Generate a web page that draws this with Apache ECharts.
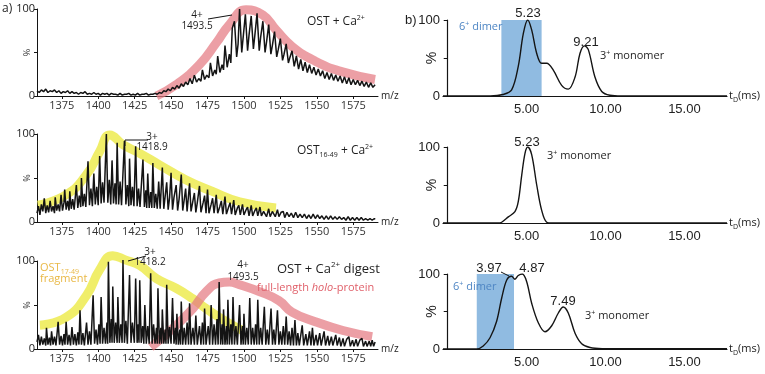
<!DOCTYPE html>
<html>
<head>
<meta charset="utf-8">
<script src="https://cdn.jsdelivr.net/npm/echarts@6/dist/echarts.min.js"></script>
<style>
  html, body { margin: 0; background: #fff; }
  #chart { width: 765px; height: 374px; }
</style>
</head>
<body>
<div id="chart"></div>
<script>
// tick labels
const mzTicks = [1375, 1400, 1425, 1450, 1475, 1500, 1525, 1550, 1575];
const tdTicks = [5, 10, 15];

// a) mass spectra, [m/z, %]
const specOstCa = [
  [1358,6],[1359.5,4],[1361,7],[1362.5,5],[1364,8],[1365.5,4],[1367,6],[1368.5,5],[1370,7],[1371.5,4],
  [1373,6],[1374.5,3],[1376,5],[1377.5,4],[1379,6],[1380.5,3],[1382,5],[1383.5,3],[1385,4],[1386.5,2],
  [1388,4],[1389.5,3],[1391,5],[1392.5,2],[1394,3],[1395.5,2],[1397,4],[1398.5,2],[1400,3],[1401.5,1],
  [1403,3],[1404.5,2],[1406,3],[1407.5,1],[1409,3],[1410.5,2],[1412,2],[1413.5,1],[1415,3],[1416.5,1],
  [1418,2],[1419.5,2],[1421,3],[1422.5,1],[1424,2],[1425.5,1],[1427,3],[1428.5,1],[1430,2],[1431.5,2],
  [1433,3],[1434.5,1],[1436,2],[1437.5,2],[1439,3],[1440.5,2],[1442,4],[1443.5,3],[1445,6],[1446.5,5],
  [1448,8],[1449.5,6],[1451,10],[1452.5,8],[1454,12],[1455.5,9],[1457,14],[1458.5,11],[1460,16],[1461.5,13],
  [1463,20],[1464.5,14],[1466,24],[1467.5,16],[1469,20],[1470.5,17],[1471.5,30],[1473,19],[1474.5,24],[1476,21],
  [1477,38],[1478.5,23],[1480,30],[1481,25],[1482,46],[1483.5,27],[1485,36],[1486,30],[1487,58],[1488.5,33],
  [1490,48],[1491,38],[1492,78],[1493.5,86],[1495,45],[1496,60],[1497,100],[1498.5,50],[1499.5,68],[1501,94],
  [1502.5,52],[1503.5,70],[1505,92],[1506.5,54],[1507.5,70],[1509,95],[1510.5,52],[1511.5,68],[1513,86],[1514.5,50],
  [1515.5,62],[1517,82],[1518.5,48],[1519.5,58],[1521,74],[1522.5,45],[1523.5,53],[1525,66],[1526.5,41],[1527.5,48],
  [1529,60],[1530.5,38],[1531.5,44],[1533,52],[1534.5,34],[1536,46],[1537.5,31],[1539,42],[1540.5,29],[1542,39],
  [1543.5,27],[1545,36],[1546.5,26],[1548,33],[1549.5,24],[1551,31],[1552.5,23],[1554,29],[1555.5,20],[1557,27],
  [1558.5,19],[1560,26],[1561.5,18],[1563,24],[1564.5,17],[1566,23],[1567.5,15],[1569,22],[1570.5,14],[1572,21],
  [1573.5,13],[1575,19],[1576.5,13],[1578,18],[1579.5,12],[1581,17],[1582.5,11],[1584,16],[1585.5,10],[1587,15],
  [1588.5,10],[1590,13]
];
const envOstCa = [
  [1440,0],[1453.5,13],[1469.5,36],[1481,61],[1490,82],[1501.5,99],[1513,93],[1522,76],
  [1533,57],[1549,40],[1567,28],[1590,19]
];

const specOst1649 = [
  [1358,10],[1359,18],[1360,8],[1361,20],[1362,12],[1363,27],[1364,10],[1365,19],[1366,11],[1367,24],
  [1368,12],[1369,18],[1370,10],[1370.5,28],[1371.5,13],[1372.5,20],[1373.5,12],[1374.5,31],[1375.5,13],[1376.5,22],
  [1377,37],[1378,14],[1379,24],[1380,13],[1380.5,35],[1381.5,15],[1382.5,26],[1383.5,14],[1385,42],[1386,16],
  [1387,30],[1388,17],[1388.5,50],[1389.5,18],[1390.5,32],[1391.5,17],[1393,69],[1394,19],[1395,38],[1396,18],
  [1397,55],[1398,20],[1399,40],[1400,19],[1401,75],[1402,21],[1403,45],[1404,22],[1405.6,100],[1406.6,22],
  [1407.6,48],[1408.6,20],[1409.5,70],[1410.5,21],[1411.5,44],[1412.3,20],[1413,90],[1414,20],[1415,46],[1416,19],
  [1418,92],[1419,20],[1420,42],[1421,18],[1421.5,72],[1422.5,19],[1423.5,40],[1424.5,18],[1425.7,86],[1426.7,18],
  [1427.7,38],[1428.7,17],[1430.7,71],[1431.7,17],[1432.7,36],[1433.3,16],[1434,55],[1435,16],[1436,34],[1436.8,16],
  [1437.5,67],[1438.5,16],[1439.5,32],[1440.5,15],[1441.5,46],[1442.5,15],[1444,62],[1445,15],[1446,30],[1447,45],
  [1448,14],[1449,28],[1450,56],[1451,14],[1452,28],[1453.5,42],[1454.5,13],[1455.5,26],[1457,54],[1458,13],
  [1459,25],[1460,38],[1461,12],[1462.7,44],[1463.7,12],[1465,24],[1466,33],[1467,11],[1468,22],[1469.5,41],
  [1470.5,11],[1472,22],[1473,30],[1474,10],[1475,37],[1476,10],[1477.5,20],[1478.5,27],[1479.5,10],[1481,31],
  [1482,10],[1483.5,18],[1484.5,24],[1485.5,9],[1487,29],[1488,9],[1489.5,17],[1490.5,22],[1491.5,9],[1493,25],
  [1494,8],[1495.5,16],[1496.5,19],[1497.5,8],[1499,20],[1500,8],[1501.5,14],[1502.5,17],[1503.5,7],[1505,19],
  [1506,7],[1507.5,13],[1508.5,16],[1509.5,7],[1511,17],[1512,7],[1513.5,12],[1514.5,14],[1515.5,6],[1517,15],
  [1518,6],[1519.5,12],[1520.5,13],[1521.5,6],[1523,14],[1524,6],[1525.5,11],[1527,12],[1528,5],[1529.5,11],
  [1531,6],[1532.5,10],[1534,5],[1535.5,11],[1537,5],[1538.5,9],[1540,5],[1541.5,9],[1543,4],[1544.5,8],
  [1546,4],[1547.5,9],[1549,4],[1550.5,8],[1552,4],[1553.5,7],[1555,3],[1556.5,7],[1558,3],[1559.5,7],
  [1561,3],[1562.5,6],[1564,3],[1565.5,6],[1567,3],[1568.5,5],[1570,2],[1571.5,6],[1573,2],[1574.5,5],
  [1576,2],[1577.5,5],[1579,2],[1580.5,5],[1582,2],[1583.5,4],[1585,2],[1586.5,4],[1588,2],[1589.5,4],[1590,3]
];
const envOst1649 = [
  [1358.6,19],[1378,31],[1392,54],[1401,80],[1408,99],[1417,88],[1428.5,78],[1442,65],
  [1460,48],[1478,35],[1497,23],[1522,16]
];

const specDigest = [
  [1358,8],[1359,16],[1360,4],[1361,14],[1362,5],[1363,12],[1364,4],[1364.5,24],[1365.5,5],[1366.5,13],
  [1367.3,4],[1368,20],[1369,5],[1370,14],[1371,4],[1372.5,31],[1373.5,5],[1374.5,15],[1375.5,4],[1376.5,17],
  [1377.2,5],[1378,31],[1379,5],[1380,16],[1381,4],[1382,25],[1383,5],[1384,17],[1385,4],[1386,19],
  [1386.8,5],[1387.5,44],[1388.5,5],[1389.5,18],[1390.5,4],[1392,30],[1393,5],[1394,20],[1395,5],[1396.5,61],
  [1397.5,6],[1398.5,22],[1399.5,5],[1400.5,28],[1401.3,6],[1402,59],[1403,6],[1404,24],[1405,6],[1406,30],
  [1406.5,6],[1407,99],[1408,7],[1409,34],[1409.5,7],[1410,71],[1411,7],[1412,30],[1413,7],[1413.5,59],
  [1414.5,7],[1415.5,28],[1416.4,7],[1417,101],[1418,7],[1419,32],[1420,6],[1421.5,84],[1422.5,7],[1423.5,30],
  [1424.8,7],[1425.7,80],[1426.7,7],[1427.5,28],[1428,7],[1428.5,78],[1429.5,7],[1430.5,26],[1431.3,6],[1432,50],
  [1433,6],[1434,26],[1435,6],[1436,86],[1437,6],[1438,28],[1439,6],[1440,24],[1440.5,6],[1441,69],
  [1442,6],[1443,24],[1443.5,6],[1444,45],[1445,6],[1446,22],[1446.5,6],[1447,73],[1448,6],[1449,25],
  [1450,6],[1451,58],[1452,6],[1453,24],[1453.5,5],[1454,40],[1455,5],[1456,22],[1456.5,5],[1457,54],
  [1458,5],[1459,24],[1460,5],[1461,30],[1462,5],[1462.7,52],[1463.7,5],[1465,24],[1466,5],[1467,38],
  [1468,5],[1469.5,26],[1470.5,5],[1471.5,30],[1472.3,5],[1473,46],[1474,5],[1475.5,26],[1476.5,5],[1477.5,50],
  [1478.5,5],[1479.5,28],[1480.5,5],[1481.5,34],[1482.3,5],[1483,76],[1484,5],[1485,28],[1485.5,5],[1486,45],
  [1487,5],[1488,26],[1488.5,5],[1489,56],[1490,5],[1491,28],[1491.8,5],[1492.5,59],[1493.5,5],[1494.5,26],
  [1495.5,5],[1497,50],[1498,5],[1499,26],[1499.5,5],[1500,40],[1501,5],[1502,24],[1503,5],[1504,58],
  [1505,5],[1506,24],[1507,5],[1508,28],[1508.8,5],[1509.5,56],[1510.5,5],[1511.5,24],[1512.5,5],[1514,48],
  [1515,5],[1516,22],[1517,5],[1518.6,46],[1519.6,5],[1520.5,22],[1521.5,5],[1523,44],[1524,5],[1525,20],
  [1526,5],[1527,26],[1528,5],[1529,37],[1530,5],[1531,20],[1532,4],[1533,24],[1534,4],[1535,33],
  [1536,4],[1537,18],[1538,4],[1540,27],[1541,4],[1542.5,17],[1543.5,4],[1545,20],[1546,4],[1547,24],
  [1548,4],[1549.5,16],[1550.5,4],[1552,18],[1553,4],[1555,20],[1556,4],[1557.5,15],[1558.5,4],[1560,14],
  [1561,4],[1563,16],[1564,4],[1565.5,13],[1566.5,3],[1568,12],[1569,3],[1570.5,11],[1572,14],[1573,3],
  [1574.5,10],[1575.5,3],[1577,11],[1578,3],[1579.5,10],[1581,12],[1582,3],[1583.5,9],[1584.5,3],[1586,9],
  [1587,3],[1588,10],[1589,3],[1590,8]
];
const envDigestFragment = [
  [1360,27],[1378,36],[1392,61],[1401,90],[1410,106],[1419,101],[1428.5,95],[1440,80],
  [1453.5,69],[1465,57],[1474,46],[1483,36],[1492,27],[1499,21]
];
const envDigestHolo = [
  [1436,2],[1451,23],[1465,46],[1474,65],[1483,75],[1490,76],[1497,73],[1511,65],
  [1524,55],[1533,42],[1549,31],[1568,21],[1588,14]
];

// b) arrival time distributions, [t_D ms, %]
const atdOstCa = [
  [-0.3,0],[2.7,0],[3.5,2],[4.05,8],[4.47,39],[4.79,82],[5.07,100],[5.32,87],[5.64,56],[5.95,43],
  [6.27,43],[6.69,34],[7.22,14],[7.64,9],[8.07,25],[8.38,56],[8.66,66],[8.91,61],[9.33,25],[9.76,6],
  [10.28,1],[11,0],[17.7,0]
];
const atdOst1649 = [
  [-0.3,0],[3.2,0],[3.42,1],[3.84,8],[4.26,15],[4.47,28],[4.69,63],[4.9,92],[5.07,100],[5.32,90],
  [5.64,50],[5.95,17],[6.27,1],[6.6,0],[17.7,0]
];
const atdDigest = [
  [-0.3,0],[1.84,0],[2.25,4],[2.68,15],[3.1,37],[3.42,68],[3.74,92],[4.05,97],[4.26,93],[4.47,98],
  [4.73,100],[5.0,90],[5.32,61],[5.74,35],[6.16,23],[6.59,31],[7.01,48],[7.32,56],[7.64,48],[8.07,21],
  [8.49,7],[9.02,2],[9.86,0.5],[11,0.3],[17.7,0.3]
];
const dimerBandOstCa = [3.4, 5.95];
const dimerBandDigest = [1.84, 4.2];

const BLACK = '#141414';
const RED = 'rgba(228,122,130,0.72)';
const YELLOW = 'rgba(238,236,90,0.9)';
const BLUE = 'rgba(132,180,222,0.9)';
const SANS = '"Open Sans", "Liberation Sans", sans-serif';
const ARIAL = '"Liberation Sans", Arial, sans-serif';

const leftGrids = [
  { left: 37, top: 9, width: 341, height: 87 },
  { left: 37, top: 134, width: 341, height: 88 },
  { left: 37, top: 261, width: 341, height: 88 },
];
const rightGrids = [
  { left: 443, top: 20, width: 284, height: 76 },
  { left: 443, top: 147, width: 284, height: 76 },
  { left: 443, top: 274, width: 284, height: 75 },
];

const grid = [...leftGrids, ...rightGrids];
const xAxis = [];
const yAxis = [];

leftGrids.forEach((g, i) => {
  xAxis.push({
    type: 'value', gridIndex: i, min: 1358, max: 1592,
    name: 'm/z', nameLocation: 'end', nameGap: 3, nameMoveOverlap: false,
    nameTextStyle: { fontFamily: SANS, fontSize: 10, color: '#222', verticalAlign: 'middle' },
    axisLine: { lineStyle: { color: BLACK, width: 1 } },
    axisTick: { show: true, length: 3, customValues: mzTicks, lineStyle: { color: BLACK } },
    axisLabel: { customValues: mzTicks, margin: 4, fontFamily: SANS, fontSize: 11, color: '#333',
      formatter: v => String(v) },
    splitLine: { show: false },
  });
  yAxis.push({
    type: 'value', gridIndex: i, min: 0, max: 100, interval: 50,
    name: '%', nameLocation: 'middle', nameRotate: 90, nameGap: 5, nameMoveOverlap: false,
    nameTextStyle: { fontFamily: SANS, fontSize: 9, color: '#333' },
    axisLine: { show: true, lineStyle: { color: BLACK, width: 1 } },
    axisTick: { show: true, length: 3, lineStyle: { color: BLACK } },
    axisLabel: { margin: 2, fontFamily: SANS, fontSize: 11, color: '#222',
      formatter: v => (v === 50 ? '' : String(v)) },
    splitLine: { show: false },
  });
});

rightGrids.forEach((g, i) => {
  xAxis.push({
    type: 'value', gridIndex: 3 + i, min: -0.3, max: 17.7,
    name: 't{sub|D}(ms)', nameLocation: 'end', nameGap: 2, nameMoveOverlap: false,
    nameTextStyle: {
      fontFamily: SANS, fontSize: 11, color: '#222', verticalAlign: 'middle',
      rich: { sub: { fontFamily: SANS, fontSize: 7, verticalAlign: 'bottom', lineHeight: 15 } },
    },
    axisLine: { lineStyle: { color: BLACK, width: 1.2 } },
    axisTick: { show: false },
    axisLabel: { customValues: tdTicks, margin: 7, fontFamily: ARIAL, fontSize: 13, color: '#222',
      formatter: v => v.toFixed(2) },
    splitLine: { show: false },
  });
  yAxis.push({
    type: 'value', gridIndex: 3 + i, min: 0, max: 100, interval: 50,
    name: '%', nameLocation: 'middle', nameRotate: 90, nameGap: 4, nameMoveOverlap: false,
    nameTextStyle: { fontFamily: ARIAL, fontSize: 14, color: '#222' },
    axisLine: { show: true, lineStyle: { color: BLACK, width: 1.2 } },
    axisTick: { show: true, length: 4, lineStyle: { color: BLACK } },
    axisLabel: { margin: 3, fontFamily: ARIAL, fontSize: 13, color: '#222',
      formatter: v => (v === 50 ? '' : String(v)) },
    splitLine: { show: false },
  });
});

function band(idx, data, color) {
  return {
    type: 'line', xAxisIndex: idx, yAxisIndex: idx, data, smooth: 0.5,
    symbol: 'none', clip: false, z: 1, silent: true,
    lineStyle: { color, width: 9, cap: 'butt', join: 'round' },
  };
}
function spectrum(idx, data) {
  return {
    type: 'line', xAxisIndex: idx, yAxisIndex: idx, data, symbol: 'none',
    clip: false, z: 3, sampling: null,
    lineStyle: { color: BLACK, width: 1.5 },
  };
}
function atd(idx, data, dimer) {
  const s = {
    type: 'line', xAxisIndex: idx, yAxisIndex: idx, data, smooth: 0.35,
    symbol: 'none', z: 3, lineStyle: { color: BLACK, width: 1.4 },
  };
  if (dimer) {
    s.markArea = {
      silent: true, itemStyle: { color: BLUE },
      data: [[{ xAxis: dimer[0], yAxis: 0 }, { xAxis: dimer[1], yAxis: 100 }]],
    };
  }
  return s;
}

const series = [
  band(0, envOstCa, RED),
  spectrum(0, specOstCa),
  band(1, envOst1649, YELLOW),
  spectrum(1, specOst1649),
  band(2, envDigestFragment, YELLOW),
  band(2, envDigestHolo, RED),
  spectrum(2, specDigest),
  atd(3, atdOstCa, dimerBandOstCa),
  atd(4, atdOst1649, null),
  atd(5, atdDigest, dimerBandDigest),
];

const supSub = (family, base) => ({
  sup: { fontFamily: family, fontSize: Math.round(base * 0.62), verticalAlign: 'top', lineHeight: base + 3 },
  sub: { fontFamily: family, fontSize: Math.round(base * 0.62), verticalAlign: 'bottom', lineHeight: base + 3 },
  i: { fontFamily: family, fontSize: base, fontStyle: 'italic' },
});

function txt(x, y, text, o = {}) {
  const size = o.size || 11;
  const family = o.family || SANS;
  return {
    type: 'text', x, y, z: 10, silent: true,
    style: {
      text, fontFamily: family, fontSize: size, fill: o.color || '#1e1e1e',
      align: o.align || 'center', verticalAlign: 'middle',
      rich: supSub(family, size),
    },
  };
}
function leader(points, w) {
  return {
    type: 'polyline', z: 10, silent: true,
    shape: { points },
    style: { stroke: BLACK, lineWidth: w || 1, fill: null },
  };
}

const graphic = [
  // a) panels
  txt(2, 9, 'a)', { size: 12, align: 'left' }),
  txt(197, 15, '4+', { size: 10 }),
  txt(197, 26, '1493.5', { size: 10 }),
  leader([[208, 19], [232, 15]]),
  txt(307, 22, 'OST + Ca{sup|2+}', { size: 12, align: 'left' }),

  txt(152, 137, '3+', { size: 10 }),
  txt(152, 147, '1418.9', { size: 10 }),
  leader([[125, 146], [125, 140], [148, 140]]),
  txt(297, 151, 'OST{sub|16-49} + Ca{sup|2+}', { size: 12, align: 'left' }),

  txt(150, 252, '3+', { size: 10 }),
  txt(150, 262, '1418.2', { size: 10 }),
  leader([[128, 261], [146, 256]]),
  txt(243, 265, '4+', { size: 10 }),
  txt(243, 277, '1493.5', { size: 10 }),
  txt(277, 269, 'OST + Ca{sup|2+} digest', { size: 13, align: 'left' }),
  txt(257, 288, 'full-length {i|holo}-protein', { size: 11, align: 'left', color: '#e0606a' }),
  txt(40, 268, 'OST{sub|17-49}', { size: 11, align: 'left', color: '#e9b845' }),
  txt(40, 279, 'fragment', { size: 11, align: 'left', color: '#e9b845' }),

  // b) panels
  txt(405, 20, 'b)', { size: 13, align: 'left', family: ARIAL }),
  txt(528, 13, '5.23', { size: 13, family: ARIAL }),
  txt(586, 42, '9.21', { size: 13, family: ARIAL }),
  txt(600, 56, '3{sup|+} monomer', { size: 11, align: 'left' }),
  txt(459, 27, '6{sup|+} dimer', { size: 11, align: 'left', color: '#4f86c4' }),

  txt(527, 142, '5.23', { size: 13, family: ARIAL }),
  txt(547, 156, '3{sup|+} monomer', { size: 11, align: 'left' }),

  txt(489, 268, '3.97', { size: 13, family: ARIAL }),
  leader([[501, 272], [509, 276]]),
  txt(532, 268, '4.87', { size: 13, family: ARIAL }),
  txt(563, 301, '7.49', { size: 13, family: ARIAL }),
  txt(585, 316, '3{sup|+} monomer', { size: 11, align: 'left' }),
  txt(453, 287, '6{sup|+} dimer', { size: 11, align: 'left', color: '#4f86c4' }),
];

const chart = echarts.init(document.getElementById('chart'), null, { renderer: 'canvas' });
chart.setOption({
  animation: false,
  backgroundColor: '#ffffff',
  grid, xAxis, yAxis, series, graphic,
});
</script>
</body>
</html>
